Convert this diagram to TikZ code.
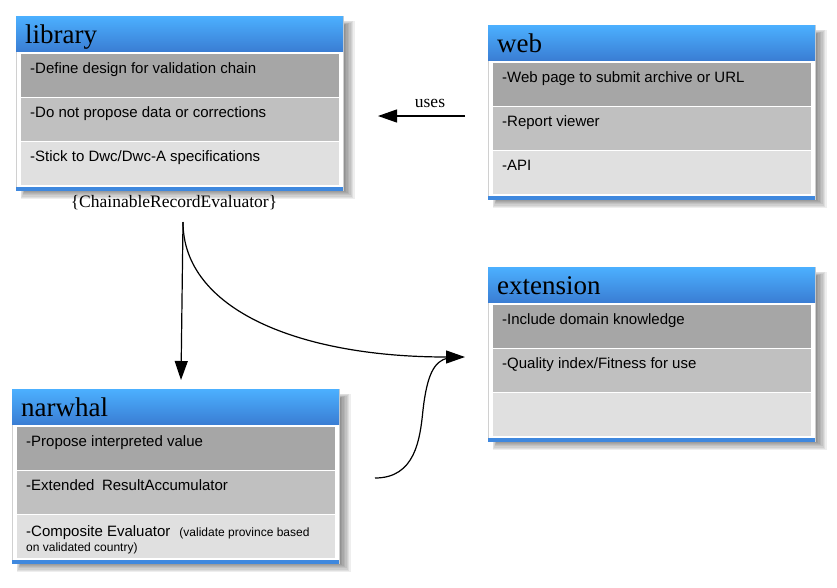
\documentclass[tikz,border=0pt]{standalone}
\usepackage{fontspec}
\setmainfont{Liberation Serif}
\newfontfamily\rowfont{Liberation Sans}
\usetikzlibrary{arrows.meta}
\definecolor{hdtop}{HTML}{4CB0FF}
\definecolor{hdbot}{HTML}{3A7ED4}
\definecolor{stripc}{HTML}{3F88DE}
\definecolor{rowA}{HTML}{A6A6A6}
\definecolor{rowB}{HTML}{C0C0C0}
\definecolor{rowC}{HTML}{E0E0E0}
\definecolor{framec}{HTML}{D0D0D0}
\tikzset{
  boxframe/.style={draw=framec, line width=0.8pt, fill=white, minimum width=327pt,
    minimum height=174pt, anchor=north west, inner sep=0pt, outer sep=0pt},
  shadowlayer/.style={fill=black, opacity=0.065},
  headbox/.style={top color=hdtop, bottom color=hdbot, minimum width=327pt,
    minimum height=35pt, anchor=north west, inner sep=0pt, outer sep=0pt},
  stripbox/.style={fill=stripc, minimum width=327pt, minimum height=3.5pt,
    anchor=north west, inner sep=0pt, outer sep=0pt},
  rowbox/.style={minimum width=319pt, minimum height=44pt, anchor=north west,
    inner sep=0pt, outer sep=0pt, draw=white, line width=1pt},
  titletext/.style={anchor=base west, inner sep=0pt, font=\fontsize{27}{30}\selectfont},
  rowtext/.style={anchor=base west, inner sep=0pt, font=\rowfont\fontsize{15}{18}\selectfont},
  labeltext/.style={anchor=base, inner sep=0pt, font=\fontsize{17.5}{20}\selectfont},
  conn/.style={line width=1.2pt},
  tip/.style={-{Triangle[length=19pt,width=13pt]}}
}
\newcommand\classbox[7]{%
  \foreach \k in {0,...,7}{%
    \fill[shadowlayer] (#2+9-0.6*\k,#3+9-0.6*\k) rectangle (#2+329+1.4*\k,#3+175+1.1*\k);
  }
  \node[boxframe] (#1) at (#2,#3) {};
  \node[headbox] (#1-head) at (#2,#3) {};
  \node[titletext] (#1-title) at (#2+9,#3+27) {#4};
  \node[rowbox, fill=rowA] (#1-r1) at (#2+4,#3+37) {};
  \node[rowbox, fill=rowB] (#1-r2) at (#2+4,#3+81.3) {};
  \node[rowbox, fill=rowC] (#1-r3) at (#2+4,#3+125.6) {};
  \node[stripbox] (#1-strip) at (#2,#3+171) {};
  \node[rowtext] (#1-t1) at (#2+14,#3+57) {#5};
  \node[rowtext] (#1-t2) at (#2+14,#3+101.3) {#6};
  \node[rowtext] (#1-t3) at (#2+14,#3+145.6) {#7};
}
\begin{document}
\begin{tikzpicture}[x=1pt,y=-1pt]
  \useasboundingbox[fill=white] (0,0) rectangle (837,587);
  \classbox{lib}{16}{16}{library}{-Define design for validation chain}{-Do not propose data or corrections}{-Stick to Dwc/Dwc-A specifications}
  \classbox{web}{488}{25}{web}{-Web page to submit archive or URL}{-Report viewer}{-API}
  \classbox{ext}{488}{267}{extension}{-Include domain knowledge}{-Quality index/Fitness for use}{}
  \classbox{nar}{12}{389}{narwhal}{-Propose interpreted value}{-Extended\hspace{0.5em}ResultAccumulator}{}
  \node[rowtext] (nar-t3a) at (12+14,389+147.6) {-Composite Evaluator\hspace{9pt}{\fontsize{12}{14}\selectfont(validate province based}};
  \node[rowtext, font=\rowfont\fontsize{12}{14}\selectfont] (nar-t3b) at (12+14,389+162) {on validated country)};
  \node[labeltext] (cre) at (174,207) {\{ChainableRecordEvaluator\}};
  \node[labeltext] (uses) at (430,107) {uses};
  \coordinate (usesFrom) at (465,116);
  \coordinate (usesTo) at (378,116);
  \coordinate (split) at (183,222);
  \coordinate (narTip) at (181,380);
  \coordinate (extTip) at (465,357);
  \coordinate (narOut) at (375,478);
  \coordinate (extJoin) at (448,358);
  \draw[conn, tip] (usesFrom) -- (usesTo);
  \draw[conn, tip] (split) -- (narTip);
  \draw[conn, tip] (split) .. controls (183,310) and (300,357) .. (extTip);
  \draw[conn] (narOut) .. controls (415,478) and (420,440) .. (423,410)
    .. controls (427,375) and (434,361) .. (extJoin);
\end{tikzpicture}
\end{document}
